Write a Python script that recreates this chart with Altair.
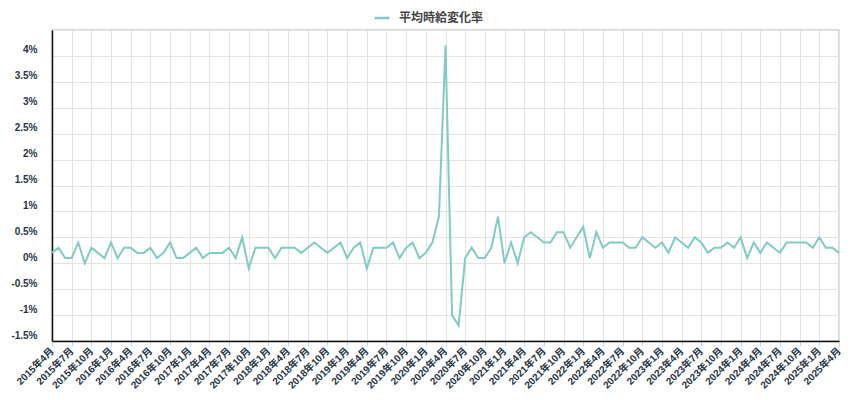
import altair as alt
import pandas as pd

start_year, start_month, n_months = 2015, 4, 121
months = []
for k in range(n_months):
    m = start_month - 1 + k
    months.append(f"{start_year + m // 12}年{m % 12 + 1}月")

values = [
    0.2, 0.3, 0.1, 0.1, 0.4, 0.0, 0.3, 0.2, 0.1, 0.4, 0.1, 0.3, 0.3, 0.2, 0.2, 0.3, 0.1, 0.2, 0.4, 0.1, 0.1,
    0.2, 0.3, 0.1, 0.2, 0.2, 0.2, 0.3, 0.1, 0.5, -0.1, 0.3, 0.3, 0.3, 0.1, 0.3, 0.3, 0.3, 0.2, 0.3, 0.4,
    0.3, 0.2, 0.3, 0.4, 0.1, 0.3, 0.4, -0.1, 0.3, 0.3, 0.3, 0.4, 0.1, 0.3, 0.4, 0.1, 0.2, 0.4, 0.9, 4.2,
    -1.0, -1.2, 0.1, 0.3, 0.1, 0.1, 0.3, 0.9, 0.0, 0.4, 0.0, 0.5, 0.6, 0.5, 0.4, 0.4, 0.6, 0.6, 0.3, 0.5,
    0.7, 0.1, 0.6, 0.3, 0.4, 0.4, 0.4, 0.3, 0.3, 0.5, 0.4, 0.3, 0.4, 0.2, 0.5, 0.4, 0.3, 0.5, 0.4, 0.2,
    0.3, 0.3, 0.4, 0.3, 0.5, 0.1, 0.4, 0.2, 0.4, 0.3, 0.2, 0.4, 0.4, 0.4, 0.4, 0.3, 0.5, 0.3, 0.3, 0.2,
]

series_name = "平均時給変化率"
tick_labels = months[::3]
y_ticks = [-1.5, -1.0, -0.5, 0.0, 0.5, 1.0, 1.5, 2.0, 2.5, 3.0, 3.5, 4.0, 4.5]

df = pd.DataFrame({"month": months, "value": values, "series": series_name})

FONT = "Liberation Sans, Arial, Noto Sans CJK JP"
LABEL_COLOR = "#263545"

chart = alt.Chart(df).mark_line(strokeWidth=2).encode(
    x=alt.X(
        "month:O",
        sort=months,
        scale=alt.Scale(type="point", padding=0),
        title=None,
        axis=alt.Axis(
            values=tick_labels,
            labelAngle=-45,
            labelAlign="right",
            labelBaseline="middle",
            labelPadding=3,
            labelOverlap=False,
            labelFont=FONT,
            labelFontSize=10,
            labelFontWeight="bold",
            labelColor=LABEL_COLOR,
            tickColor="#ccd6eb",
            tickSize=5,
            grid=True,
            gridColor="#e3e3e3",
            domainColor="#111111",
            domainWidth=1.5,
        ),
    ),
    y=alt.Y(
        "value:Q",
        scale=alt.Scale(domain=[-1.5, 4.5], nice=False, zero=False),
        title=None,
        axis=alt.Axis(
            values=y_ticks,
            labelExpr="datum.value >= 4.5 ? '' : datum.value + '%'",
            labelBaseline="alphabetic",
            labelOffset=-3,
            labelPadding=15,
            ticks=False,
            labelFont=FONT,
            labelFontSize=10,
            labelFontWeight="bold",
            labelColor=LABEL_COLOR,
            grid=True,
            gridColor="#e3e3e3",
            domainColor="#111111",
            domainWidth=1.5,
        ),
    ),
    color=alt.Color(
        "series:N",
        scale=alt.Scale(range=["#80cbc4"]),
        legend=alt.Legend(
            orient="none",
            legendX=321,
            legendY=-21,
            title=None,
            symbolType="stroke",
            symbolSize=225,
            symbolStrokeWidth=2.5,
            labelFont="Noto Sans CJK JP",
            labelFontSize=12,
            labelFontWeight="bold",
            labelColor="#444444",
            labelOffset=8,
            padding=0,
        ),
    ),
).properties(
    width=787,
    height=311,
    autosize=alt.AutoSizeParams(type="none"),
    padding={"left": 44, "top": 22, "right": 3, "bottom": 58},
).configure_view(stroke="#cccccc", strokeWidth=1.5)

chart.save("out.html", embed_options={"renderer": "svg", "actions": False})
